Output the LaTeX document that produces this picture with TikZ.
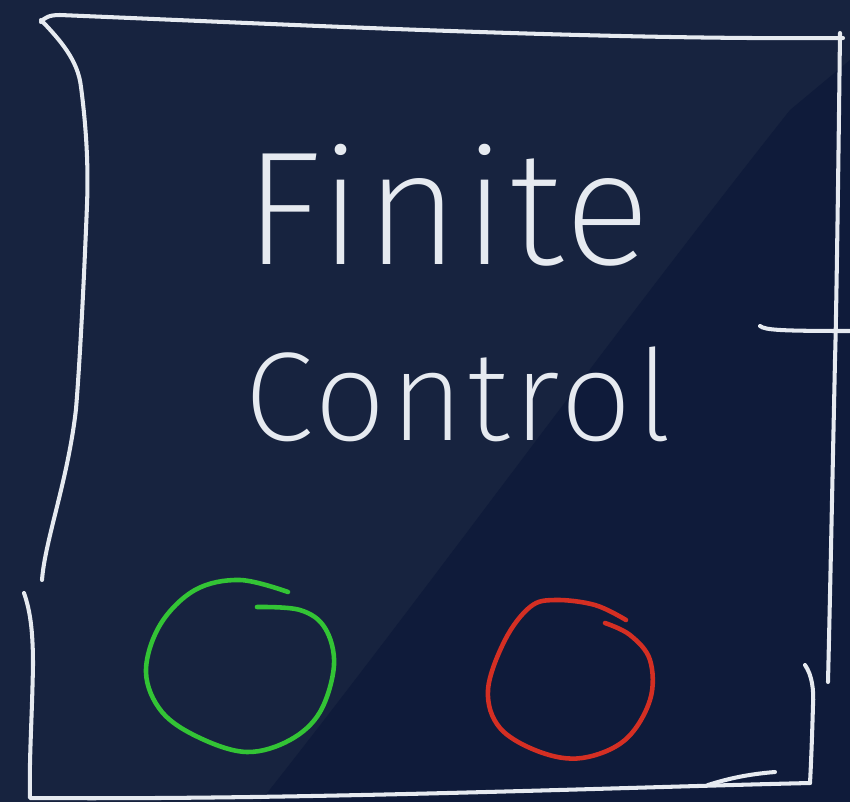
\documentclass[tikz,border=0pt]{standalone}
\usepackage{fontspec}
\newfontfamily\hand{Fira Sans ExtraLight}
\definecolor{bgA}{HTML}{17233F}
\definecolor{bgB}{HTML}{0F1B3A}
\definecolor{chalk}{HTML}{E6EAF0}
\definecolor{grn}{HTML}{33C435}
\definecolor{rd}{HTML}{D42F23}
\tikzset{
  chalkline/.style={draw=chalk, line width=2.3pt, line cap=round, line join=round},
  ring/.style={line width=2.6pt, line cap=round, line join=round},
  handtext/.style={text=chalk, inner sep=0pt, font=\hand}
}
\begin{document}
\begin{tikzpicture}[x=0.02cm,y=-0.02cm]
\fill[bgA] (0,0) rectangle (850,802);
\useasboundingbox (0,0) rectangle (850,802);
\fill[bgB] (850,60) -- (790,110) .. controls (600,350) and (420,600) .. (260,802) -- (850,802) -- cycle;
% box strokes
\draw[chalkline] (41,22) .. controls (45,17) and (50,15) .. (60,15) .. controls (300,25) and (600,40) .. (843,38);
\draw[chalkline] (41,20) .. controls (60,40) and (78,60) .. (81,87) .. controls (88,140) and (88,180) .. (87,205) .. controls (84,280) and (80,360) .. (76,409) .. controls (68,480) and (45,540) .. (42,580);
\draw[chalkline] (840,33) .. controls (838,200) and (836,330) .. (835,360) .. controls (832,500) and (830,600) .. (828,682);
\draw[chalkline] (24,593) .. controls (30,610) and (33,630) .. (33,665) .. controls (32,720) and (29,760) .. (30,798) .. controls (300,800) and (600,788) .. (810,783);
\draw[chalkline] (805,665) .. controls (812,675) and (814,690) .. (813,705) .. controls (812,740) and (811,765) .. (810,783);
\draw[chalkline] (775,772) .. controls (750,774) and (730,778) .. (708,785);
% tick on right side
\coordinate (tickA) at (760,326);
\coordinate (tickB) at (850,331);
\draw[chalkline] (tickA) .. controls (765,330) and (780,331) .. (tickB);
% text
\node[handtext, anchor=base, font=\hand\addfontfeatures{LetterSpace=2}\fontsize{92}{92}\selectfont] (finite) at (448,264) {Finite};
\node[handtext, anchor=base, font=\hand\addfontfeatures{LetterSpace=3}\fontsize{72}{72}\selectfont] (control) at (458,440) {Control};
% circles
\draw[grn, ring] plot[smooth, tension=0.6] coordinates {(288,592) (240,580) (195,590) (160,625) (146,672) (162,712) (200,738) (247,752) (290,740) (320,712) (334,665) (325,628) (300,610) (257,607)};
\draw[rd, ring] plot[smooth, tension=0.6] coordinates {(626,620) (595,605) (555,600) (530,607) (505,640) (488,690) (500,728) (540,752) (582,758) (625,740) (650,700) (650,660) (630,635) (605,623)};
\end{tikzpicture}
\end{document}
